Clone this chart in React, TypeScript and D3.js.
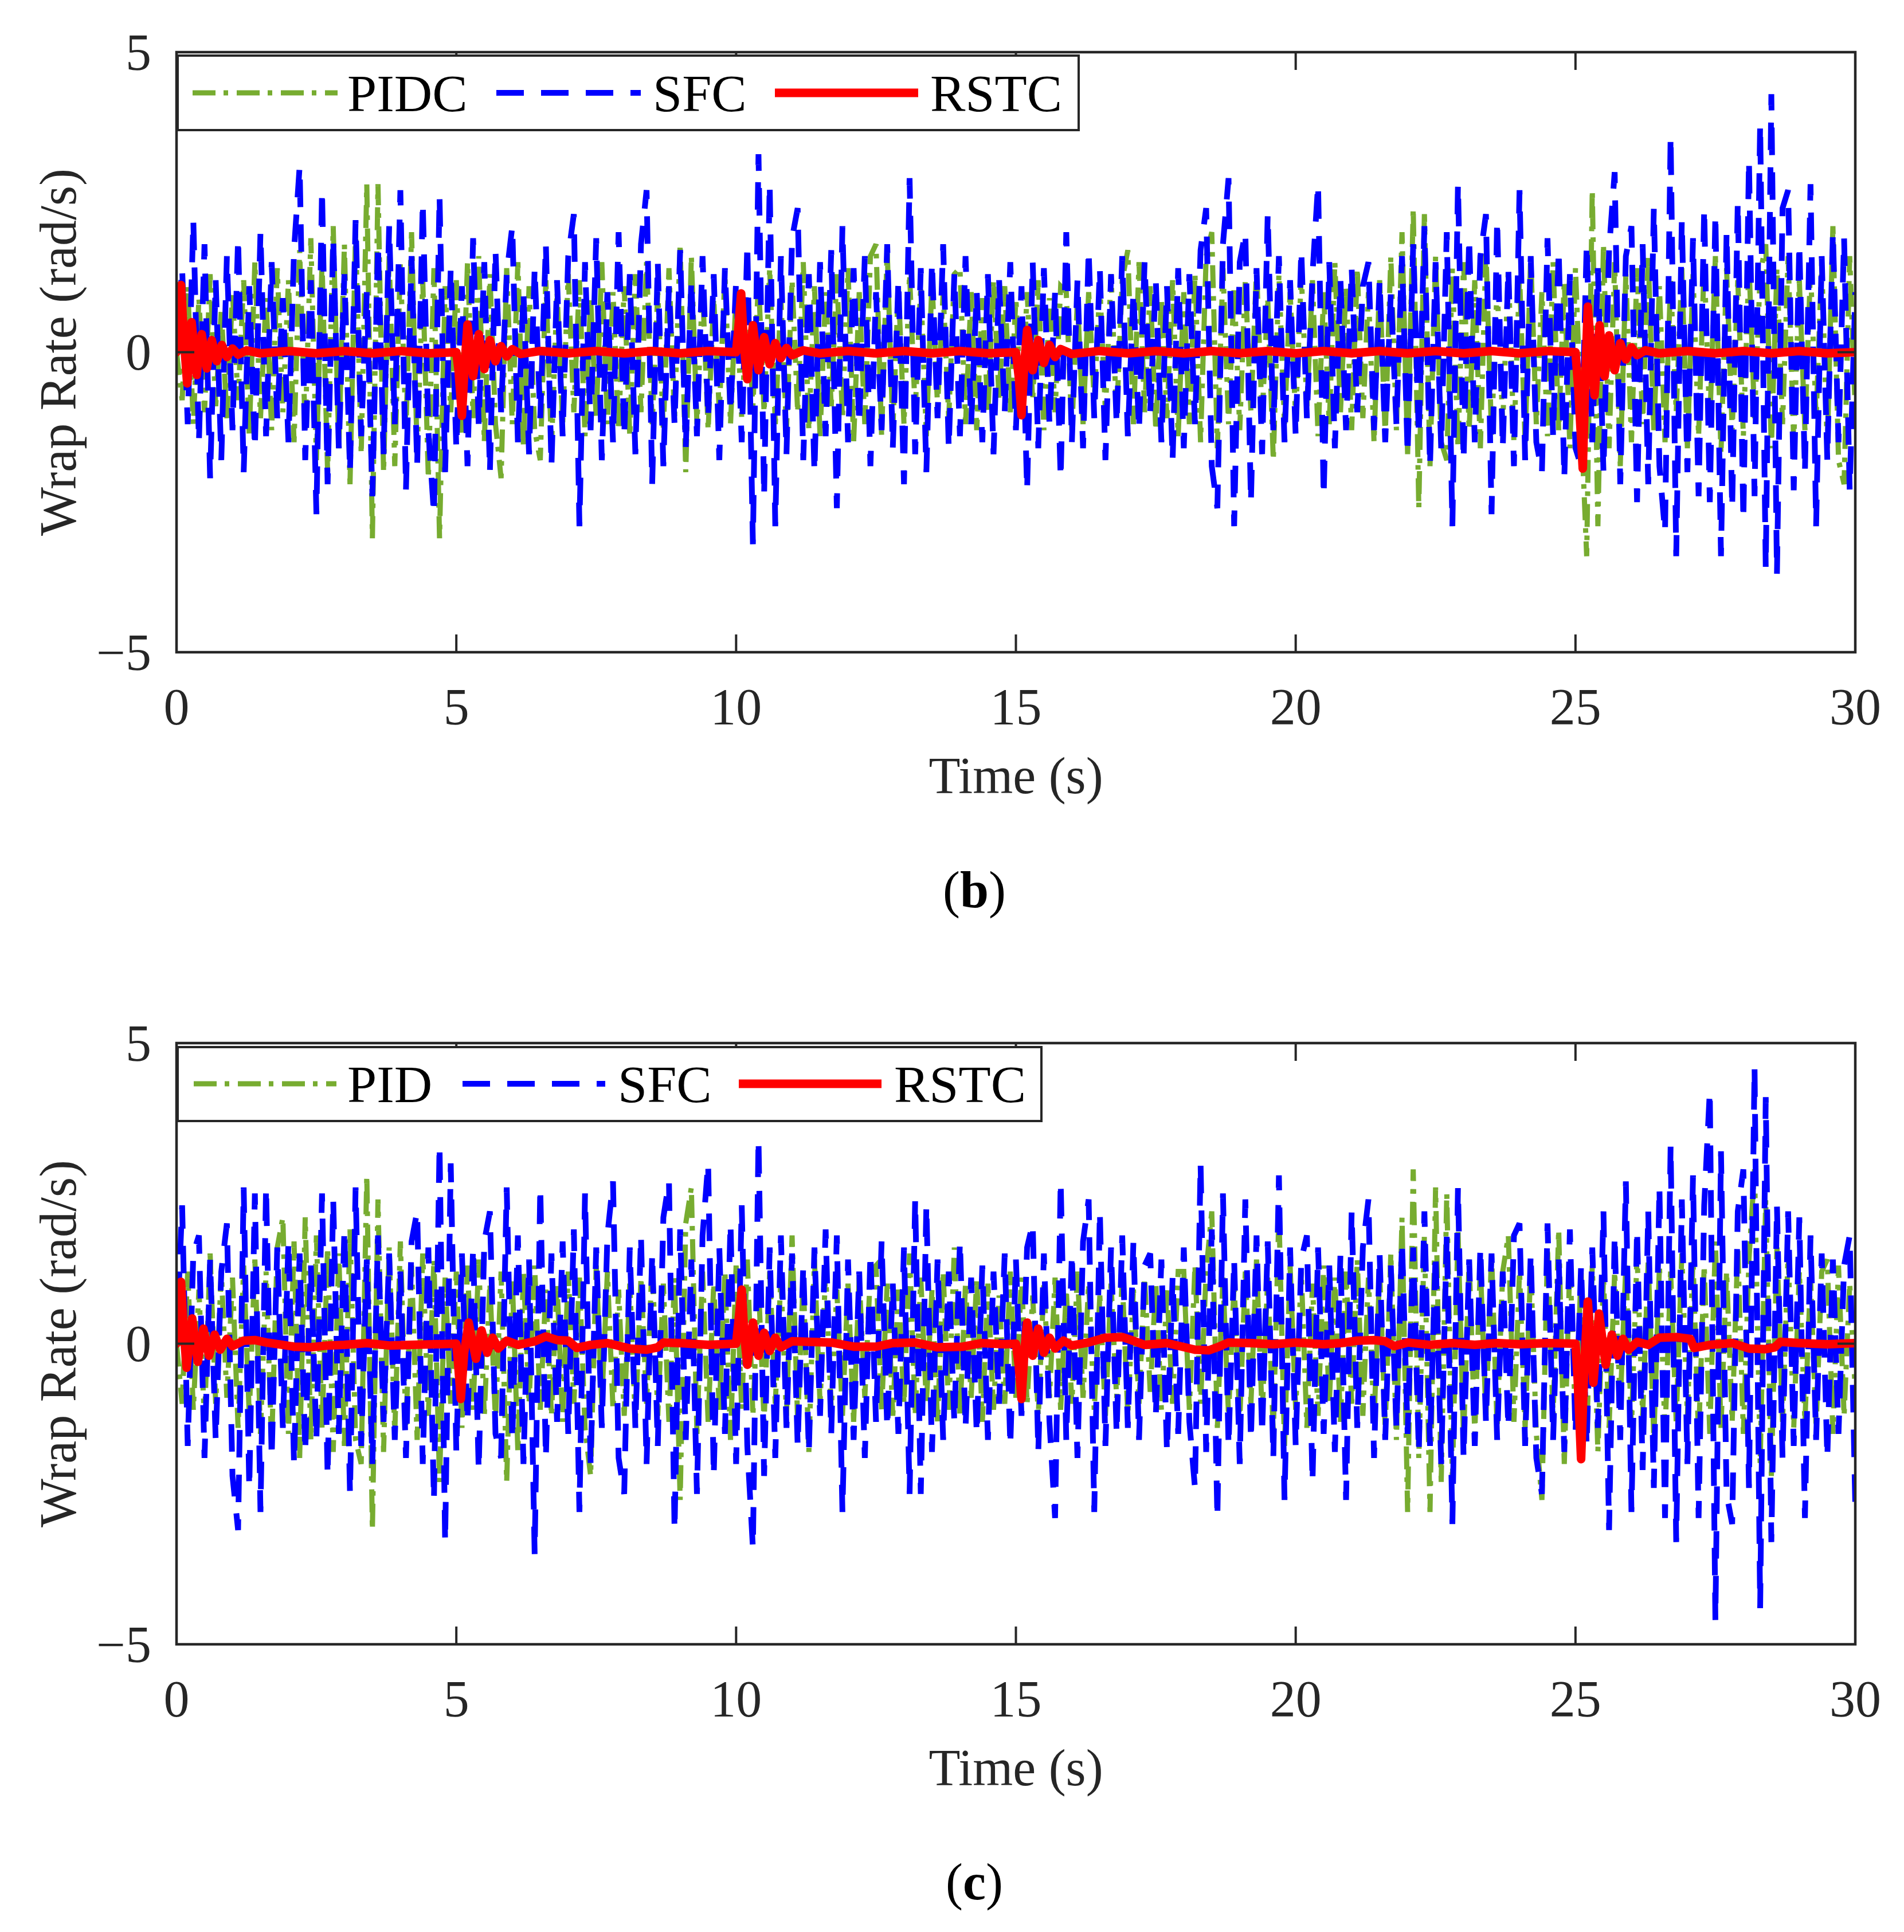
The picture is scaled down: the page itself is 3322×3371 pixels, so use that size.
import React, { useEffect } from 'react';
import * as d3 from 'd3';

// sample step of the noisy controller traces (s)
const DT = 0.1;

// panel (b) — PIDC, one row per second
const pidcB = [
  0, -0.8, 1.1, -1.2, 0.9, -1.0, 1.3, -0.9, 0.7, -1.1,
  1.0, -0.8, 1.2, -1.4, 1.5, -1.1, 0.9, -1.3, 1.4, -1.0,
  1.2, -1.5, 1.7, -1.3, 1.9, -1.8, 1.5, -2.0, 2.1, -1.6,
  1.8, -2.2, 2.0, -1.7, 2.8, -3.1, 2.8, -2.0, 1.6, -1.9,
  1.5, -1.3, 2.0, -1.7, 1.2, -2.1, 1.4, -3.1, 1.1, -1.0,
  1.2, -1.4, 1.5, -1.1, 1.6, -1.5, 1.3, -1.2, -2.1, 1.4,
  -1.2, 1.5, -1.6, 1.1, -1.3, -1.8, 1.2, -1.6, 1.0, -1.2,
  1.3, -1.0, 1.2, -1.4, 0.9, -1.1, 1.5, -1.2, 1.0, -1.3,
  1.1, -1.4, 1.3, -1.0, 1.5, -1.2, 1.0, -1.3, 1.4, -1.1,
  1.8, -2.0, 1.6, -1.2, 1.1, -1.3, 0.9, -1.0, 1.3, -1.2,
  1.0, -1.1, 0.8, -0.9, 1.2, -1.0, 1.4, -1.2, 0.9, -1.3,
  1.2, -1.0, 1.5, -1.3, 1.1, -1.4, 1.0, -0.9, 1.3, -1.1,
  1.4, -1.5, 1.0, -1.2, 1.6, 1.8, -1.4, 1.7, -1.3, 1.1,
  -1.2, 1.3, -1.0, 1.1, -1.4, 1.2, -0.9, 1.0, -1.1, 1.3,
  1.4, -1.2, 1.0, -1.3, 0.9, -1.0, 1.2, -0.8, 1.1, -1.0,
  0.9, -1.1, 1.0, -0.8, 1.2, -1.3, 0.9, -1.0, 1.1, 1.0,
  -1.3, 0.9, -1.2, 1.0, -0.8, 1.1, -1.0, 1.3, -1.1, 1.2,
  1.7, -1.2, 1.5, -1.0, 1.1, -1.3, 0.9, -1.1, 1.2, -1.4,
  1.0, -1.2, 1.3, -1.5, 1.6, 2.0, -1.6, 1.4, -1.2, 1.1,
  -1.3, 1.2, -1.0, 1.4, -1.1, 0.9, -1.8, 1.3, -1.2, 1.0,
  -1.1, 1.3, -0.9, 1.2, -1.4, 1.0, -1.2, 1.5, -1.0, 1.1,
  -1.3, 1.4, -1.1, 1.0, -1.5, 1.2, -1.4, 1.6, -1.3, 2.0,
  -1.7, 2.4, -2.6, 2.3, -1.9, 1.6, -1.5, -1.8, 1.4, -1.6,
  1.5, -1.3, 1.2, -1.6, 1.7, -1.4, 1.1, -1.2, 1.4, -1.5,
  1.3, -1.5, 1.6, -1.2, 1.0, -1.4, 1.5, -1.3, 1.2, -1.6,
  1.4, -1.1, -3.4, 2.7, -2.9, 1.8, -1.6, 1.5, -1.9, 1.3,
  -1.5, 1.4, -1.2, 1.6, -1.3, 1.1, -1.5, 1.2, -1.0, 1.4,
  -1.6, 1.3, -1.4, 1.5, -1.2, 1.6, -1.7, 1.4, -1.3, 1.2,
  -1.4, 1.5, -1.1, 1.3, 1.8, -1.6, 1.4, -1.2, 1.6, -1.5,
  1.2, -1.3, 1.4, -1.1, 1.5, -1.6, 2.1, -1.8, -2.2, 1.6,
  -1.0,
];

// panel (b) — SFC
const sfcB = [
  0, 1.4, -1.2, 2.2, -1.5, 1.8, -2.1, 1.2, -1.8, 1.6,
  -1.3, 1.9, -2.0, 1.1, -1.6, 2.0, -1.4, 1.5, -1.1, 0.9,
  -1.5, 1.7, 3.1, -1.8, 1.2, -2.7, 2.7, -2.2, 1.9, -1.6,
  1.3, -2.0, 2.2, -1.4, 1.0, -2.4, 1.8, -1.7, 2.1, -1.2,
  2.7, -2.3, 1.6, -1.9, 2.5, -1.3, -2.7, 2.6, -2.0, 1.4,
  -1.6, 1.1, -1.9, 1.9, -1.2, 1.5, -2.0, 1.7, -1.0, 1.3,
  2.1, -1.5, 1.0, -1.7, 1.4, -1.1, 1.8, -1.9, 1.2, -1.4,
  1.6, 2.3, -2.9, 1.5, -1.3, 1.9, -1.8, 1.0, -1.5, 2.0,
  -1.4, 1.3, -1.7, 1.8, 2.7, -2.2, 1.5, -1.9, 1.1, -1.2,
  1.7, -1.6, 1.2, -1.4, 1.6, -1.1, 1.3, -1.8, 1.4, -1.0,
  1.2, -1.5, 1.8, -3.2, 3.3, -2.4, 2.8, -2.9, 1.6, -1.7,
  1.9, 2.4, -1.8, 1.3, -2.0, 1.5, -1.4, 1.7, -2.6, 2.1,
  -1.5, 1.4, -1.2, 1.6, -1.9, 1.0, -1.3, 1.8, -1.6, 1.2,
  -2.2, 2.9, -1.7, 1.4, -2.0, 1.5, -1.1, 1.8, -1.6, 1.3,
  -1.4, 1.6, -1.2, 1.0, -1.5, 1.3, -1.7, 1.2, -1.0, 1.5,
  -1.3, 1.1, -2.3, 1.5, -1.6, 1.4, -1.2, 1.0, -2.1, 2.0,
  -1.5, 1.2, -1.6, 1.7, -1.1, 1.4, -1.8, 1.3, -1.2, 1.6,
  -1.4, 1.0, -1.3, 1.5, -1.0, 1.2, -1.5, 1.1, -1.8, 1.4,
  -1.6, 1.3, -1.2, 1.7, 2.4, -1.9, -2.6, 1.8, 2.9, -2.9,
  1.5, 2.0, -2.5, 1.4, -1.7, 2.3, -1.3, 1.6, -1.5, 1.2,
  -1.4, 1.7, -1.1, 1.3, 2.8, -2.4, 1.5, -1.6, 1.2, -1.3,
  1.4, -1.0, 1.1, 1.5, -1.3, 1.2, -1.5, 1.0, -1.2, 1.6,
  -1.7, 1.8, -1.4, 2.1, -1.9, 1.5, -1.6, 2.0, -2.9, 2.8,
  -1.8, 1.9, -1.5, 1.6, 2.3, -2.7, 2.2, -1.6, 1.4, -1.9,
  2.7, -1.8, 1.6, -1.5, -2.0, 1.9, -1.4, 1.7, -2.1, 1.3,
  -1.6, -1.9, 1.8, -1.5, 1.4, -2.0, 1.7, 3.0, -2.2, 1.6,
  2.1, -2.5, 1.8, -2.2, 2.4, -1.9, -3.0, 3.6, -3.4, 2.2,
  -2.0, 1.9, -2.4, 2.4, -2.5, 2.3, -3.4, 2.0, -2.6, 2.5,
  -2.8, 3.2, -2.4, 3.8, -3.6, 4.3, -3.7, 2.4, 2.7, -2.3,
  1.8, -2.0, 2.8, -2.9, 1.6, -1.8, 2.0, -1.5, 1.9, -2.3,
  1.0,
];

// panel (b) — RSTC as [time, value]
const rstcB: [number, number][] = [
  [0, 0], [0.03, 0.35], [0.08, 1.12], [0.13, 0.25], [0.19, -0.52], [0.27, 0.5], [0.36, -0.38],
  [0.45, 0.3], [0.54, -0.27], [0.63, 0.2], [0.72, -0.15], [0.81, 0.12], [0.9, -0.08], [1.0, 0.06],
  [1.1, -0.04], [1.25, 0.03], [1.5, -0.02], [2, 0.02], [2.5, -0.02], [3, 0.02], [3.5, -0.02],
  [4, 0.02], [4.5, -0.02], [5.0, 0], [5.04, -0.3], [5.1, -1.06], [5.15, -0.2], [5.2, 0.46],
  [5.3, -0.4], [5.4, 0.3], [5.5, -0.28], [5.6, 0.2], [5.7, -0.15], [5.8, 0.1], [5.9, -0.07],
  [6.0, 0.05], [6.15, -0.03], [6.5, 0.02], [7, -0.02], [7.5, 0.02], [8, -0.02], [8.5, 0.02],
  [9, -0.02], [9.5, 0.02], [10.0, 0], [10.04, 0.4], [10.09, 0.98], [10.14, 0.1], [10.2, -0.45],
  [10.3, 0.45], [10.4, -0.3], [10.5, 0.25], [10.6, -0.2], [10.7, 0.15], [10.8, -0.1], [10.9, 0.07],
  [11.0, -0.05], [11.2, 0.03], [11.5, -0.02], [12, 0.02], [12.5, -0.02], [13, 0.02], [13.5, -0.02],
  [14, 0.02], [14.5, -0.02], [15.0, 0], [15.05, -0.4], [15.1, -1.05], [15.15, -0.2], [15.2, 0.37],
  [15.3, -0.3], [15.4, 0.2], [15.5, -0.18], [15.6, 0.12], [15.7, -0.08], [15.8, 0.05], [16.0, -0.03],
  [16.5, 0.02], [17, -0.02], [17.5, 0.02], [18, -0.02], [18.5, 0.02], [19, -0.02], [19.5, 0.02],
  [20, -0.02], [20.5, 0.02], [21, -0.02], [21.5, 0.02], [22, -0.02], [22.5, 0.02], [23, -0.02],
  [23.5, 0.02], [24, -0.02], [24.5, 0.02], [25.0, 0], [25.05, -0.6], [25.13, -1.94], [25.18, -0.3],
  [25.22, 0.76], [25.34, -0.72], [25.43, 0.45], [25.52, -0.4], [25.6, 0.28], [25.7, -0.3],
  [25.8, 0.15], [25.9, -0.12], [26.0, 0.08], [26.1, -0.05], [26.25, 0.03], [26.5, -0.02],
  [27, 0.02], [27.5, -0.02], [28, 0.02], [28.5, -0.02], [29, 0.02], [29.5, -0.02], [30, 0],
];

// panel (c) — PID
const pidC = [
  0, -1.0, 1.2, -1.1, 0.9, -1.3, 1.5, -1.0, 1.2, -0.9,
  1.1, -1.4, 1.3, -1.2, 1.4, -1.5, 1.2, -1.7, 1.6, 2.1,
  -1.5, 1.7, -1.9, 2.1, -1.6, 1.8, -1.4, 1.6, -1.8, 1.5,
  -1.7, 1.9, -1.6, -2.0, 2.8, -3.1, 2.4, -1.8, 1.6, -1.5,
  1.7, -1.4, 1.3, -1.6, 1.5, -1.2, 1.4, -2.3, 1.1, -1.0,
  1.2, -1.4, 1.3, -1.1, 1.4, -1.2, 1.0, -1.3, 1.2, -2.3,
  1.1, -1.8, 1.2, -1.0, 1.3, -1.1, 0.9, -1.2, 1.0, -1.3,
  1.2, -1.0, 1.1, -1.4, -2.2, 1.3, -1.0, 1.2, -1.1, 0.9,
  -1.2, 1.0, -1.3, 1.1, -1.0, 1.4, -1.2, 1.0, -1.3, 1.1,
  -2.6, 2.0, 2.6, -1.5, 1.2, -1.3, 1.0, -1.1, 1.2, -1.6,
  1.3, -1.1, 1.4, -1.2, 1.0, -1.3, 1.2, -1.0, 1.1, -1.2,
  1.8, -1.3, 1.1, -1.8, 1.4, -1.0, 1.2, -1.1, 0.9, -1.2,
  1.0, -1.3, 1.1, -0.9, 1.2, 1.3, -1.1, 1.0, -1.2, 0.9,
  -1.0, 1.5, -1.2, 1.1, -1.0, 0.9, -1.3, 1.2, -1.1, 1.6,
  -1.2, 1.0, -0.9, 1.1, -1.3, 1.0, -1.1, 0.8, -1.0, 1.2,
  -0.9, 1.1, -1.0, 0.8, -1.2, 1.0, -0.9, 1.1, -1.1, 0.9,
  -1.0, 1.2, -0.9, 1.0, -1.1, 0.8, -1.2, 1.0, -0.9, 1.1,
  -1.2, 0.9, -1.0, 1.1, -0.8, 1.0, -1.1, 0.9, -1.0, 1.2,
  1.2, -1.1, 1.3, -1.0, 1.2, 2.2, -1.4, 1.1, -1.2, 1.0,
  -1.3, 1.2, -1.0, 1.4, -1.2, 1.1, -1.5, 2.2, -1.7, 1.3,
  -1.1, 1.2, -1.4, 1.0, -1.2, 1.3, -1.0, 1.1, -1.3, 1.2,
  -1.0, 1.4, -1.2, 1.1, -1.3, 1.2, -1.4, 1.5, -1.6, 2.1,
  -2.8, 2.9, -1.9, 1.8, -2.8, 2.6, -2.3, 2.5, -2.3, 1.9,
  -1.6, 1.4, -1.5, 1.3, -1.2, 1.5, -1.4, 1.2, 1.8, -1.3,
  1.2, -1.4, 1.3, -1.5, -2.6, 1.6, -1.2, 1.9, -2.0, 1.4,
  -1.3, 1.2, -1.5, 1.3, -1.8, 1.1, -1.4, 1.2, -1.0, 1.3,
  -1.4, 1.5, -1.2, 1.4, -1.6, 1.3, -1.5, 1.2, -1.3, 1.5,
  -1.2, 1.4, -1.6, 1.3, -1.5, 1.7, -1.4, 1.2, -1.3, 1.6,
  -1.5, 1.4, 2.9, -2.0, 2.4, -2.2, 1.6, -1.3, 1.5, -1.4,
  1.2, -1.3, 1.1, -1.4, 1.2, 1.4, -1.5, 1.3, -1.2, 1.0,
  -0.8,
];

// panel (c) — SFC
const sfcC = [
  0, 2.3, -1.7, 1.5, 1.8, -1.9, 1.4, -1.6, 1.2, 2.0,
  -2.2, -3.1, 2.6, -2.4, 2.5, -2.8, 2.6, -1.9, 1.6, -1.4,
  1.7, -2.0, 1.5, -1.8, 1.3, -1.6, 2.5, -2.2, 2.4, -1.5,
  1.9, -2.5, 2.6, -1.7, 1.4, -2.0, 1.8, -1.3, 1.5, -1.6,
  1.2, -1.9, 1.7, 2.2, -2.0, 1.6, -2.6, 3.3, -3.3, 3.0,
  -1.8, 1.5, -1.3, 1.6, -2.1, 1.7, 2.2, -1.5, -1.9, 2.6,
  -1.6, 1.8, -2.0, 1.4, -3.5, 2.6, -1.9, 1.5, -1.3, 1.7,
  -1.5, 1.9, -2.8, 2.5, -2.0, 1.6, -1.4, 1.8, 2.7, -1.9,
  -2.5, 1.6, -1.4, 1.8, -2.0, 1.5, -1.7, 2.1, 2.7, -3.1,
  1.9, -1.6, 1.4, -2.5, 1.8, 3.0, -2.2, 1.6, -1.5, 2.0,
  -2.0, 2.3, -1.7, -3.4, 3.4, -2.2, 1.6, -1.9, 1.8, -1.4,
  1.5, -1.7, 1.3, -1.8, 1.6, -1.2, 1.9, -1.5, 1.8, -2.8,
  1.4, -1.6, 1.2, -1.9, 1.5, -1.3, 1.7, -1.4, 1.0, -1.5,
  1.6, -2.5, 2.4, -2.5, 2.3, -1.8, 1.4, -1.6, 1.2, -1.3,
  1.7, -1.4, 1.1, -1.5, 1.3, -1.6, 1.2, -1.0, 1.5, -1.7,
  1.4, -1.2, 1.6, 2.0, -1.8, 1.5, -1.3, -2.9, 2.7, -1.6,
  1.5, -1.9, 1.7, 2.4, -2.8, 2.2, -1.7, 1.6, -1.5, 1.8,
  -1.4, 1.7, -1.6, 1.3, 1.5, -1.2, 1.4, -1.8, 1.1, -1.5,
  1.6, -1.3, -2.4, 3.0, -1.8, 1.9, -2.9, 2.5, -1.7, 1.4,
  -2.0, 2.4, -1.6, 1.8, -1.5, 1.7, -1.9, 2.8, -2.6, 1.6,
  -1.7, 1.4, 1.8, -2.3, 1.6, -1.5, 1.3, -1.8, 1.5, -2.6,
  2.2, -1.4, 1.6, 2.4, -1.9, 1.5, -1.6, 1.3, -1.4, 1.7,
  -1.5, 1.6, -1.8, 2.2, -1.7, 1.5, -2.0, 1.8, -3.0, 2.6,
  -1.9, 1.4, -1.7, 1.6, -1.3, 1.5, -1.6, 1.2, -1.4, 1.8,
  2.0, -1.7, 1.5, -1.9, -2.5, 2.0, -1.6, 1.4, -1.8, 1.9,
  -1.5, 1.3, -1.7, 1.6, -1.4, 2.2, -3.1, 1.8, -1.6, 2.7,
  -2.8, 1.9, -2.1, 2.2, -2.4, 2.6, -2.9, 3.3, -3.3, 2.4,
  -2.0, 2.8, -2.9, 2.3, 4.2, -4.6, 3.2, -2.5, -3.0, 2.2,
  2.9, -2.4, 4.6, -4.4, 4.1, -3.3, 2.3, -1.9, 2.2, -1.7,
  2.1, -2.9, 1.8, -1.6, 1.5, -1.9, 1.4, -1.5, 1.3, 1.8,
  -2.7,
];

// panel (c) — RSTC as [time, value]
const rstcC: [number, number][] = [
  [0, 0], [0.03, 0.3], [0.08, 1.03], [0.13, 0.2], [0.18, -0.4], [0.28, 0.42], [0.38, -0.3],
  [0.48, 0.25], [0.58, -0.2], [0.68, 0.15], [0.78, -0.1], [0.9, 0.08], [1.0, -0.04], [1.2, 0.05],
  [1.4, 0.06], [1.6, 0.02], [1.9, -0.02], [2.1, -0.05], [2.4, -0.06], [2.7, -0.03], [3.0, -0.02],
  [3.4, 0.01], [3.8, -0.03], [4.2, -0.02], [4.6, -0.01], [5.0, 0], [5.03, -0.3], [5.08, -0.92],
  [5.14, -0.15], [5.22, 0.35], [5.35, -0.25], [5.45, 0.22], [5.55, -0.15], [5.65, 0.1],
  [5.75, -0.08], [5.9, 0.05], [6.1, -0.02], [6.4, 0.04], [6.6, 0.12], [6.8, 0.06], [7.0, 0.05],
  [7.15, -0.07], [7.4, -0.02], [7.7, 0.01], [8.1, -0.08], [8.4, -0.1], [8.6, -0.06], [8.7, 0.02],
  [9.0, 0.01], [9.5, -0.02], [10.0, 0], [10.04, 0.35], [10.1, 0.9], [10.15, 0.1], [10.2, -0.35],
  [10.3, 0.35], [10.4, -0.2], [10.5, 0.18], [10.6, -0.12], [10.7, 0.1], [10.8, -0.06],
  [11.0, 0.04], [11.3, 0.03], [11.7, 0.02], [12.1, -0.05], [12.5, -0.05], [12.8, 0.01],
  [13.2, 0.02], [13.6, -0.06], [14.05, -0.05], [14.4, 0.01], [14.8, -0.01], [15.0, 0],
  [15.05, -0.35], [15.1, -0.92], [15.15, -0.15], [15.2, 0.35], [15.3, -0.2], [15.4, 0.25],
  [15.5, -0.15], [15.6, 0.1], [15.7, -0.08], [15.85, 0.05], [16.0, -0.03], [16.3, 0.02],
  [16.6, 0.1], [16.9, 0.11], [17.06, 0.06], [17.3, -0.02], [17.7, 0.01], [18.2, -0.1],
  [18.45, -0.11], [18.6, -0.06], [18.8, 0.02], [19.2, 0.01], [19.6, -0.01], [20.0, 0.02],
  [20.5, -0.01], [20.8, 0.01], [21.1, 0.05], [21.4, 0.06], [21.6, 0.04], [21.76, -0.04],
  [22.0, 0.02], [22.4, -0.02], [22.8, 0.01], [23.2, -0.02], [23.6, 0.01], [24.0, -0.01],
  [24.5, 0.01], [25.0, 0], [25.04, -0.6], [25.1, -1.92], [25.16, -0.3], [25.22, 0.7],
  [25.32, -0.65], [25.42, 0.5], [25.54, -0.35], [25.65, 0.15], [25.75, -0.2], [25.85, 0.08],
  [25.95, -0.1], [26.1, 0.03], [26.3, -0.02], [26.5, 0.1], [26.8, 0.11], [27.05, 0.08],
  [27.12, -0.07], [27.4, -0.02], [27.8, 0.01], [28.1, -0.08], [28.4, -0.09], [28.56, -0.06],
  [28.66, 0.03], [29.0, 0.01], [29.5, -0.01], [30, 0.01],
];

const xTicks = [0, 5, 10, 15, 20, 25, 30];
const yTicks = [-5, 0, 5];
const legendB = ['PIDC', 'SFC', 'RSTC'];
const legendC = ['PID', 'SFC', 'RSTC'];

const GREEN = '#77AC30';
const BLUE = '#0000FF';
const RED = '#FF0000';
const AXIS = '#262626';
const FONT = '"Liberation Serif", "Times New Roman", serif';

const STYLES = [
  { color: GREEN, width: 9, dash: '40 14 8 15' },
  { color: BLUE, width: 10, dash: '48 30' },
  { color: RED, width: 15, dash: undefined },
];

type LegendLayout = {
  box: [number, number, number, number];
  lineY: number;
  entries: { x0: number; x1: number; tx: number }[];
};

function Panel({
  id, top, bottom, pid, sfc, rstc, labels, legend, caption,
}: {
  id: string; top: number; bottom: number; pid: number[]; sfc: number[];
  rstc: [number, number][]; labels: string[]; legend: LegendLayout; caption: string;
}) {
  const x = d3.scaleLinear().domain([0, 30]).range([308, 3237]);
  const y = d3.scaleLinear().domain([-5, 5]).range([bottom, top]);
  const [x0, x1] = x.range();

  const sampled = d3.line<number>().x((_, i) => x(i * DT)).y((d) => y(d));
  const pairs = d3.line<[number, number]>().x((d) => x(d[0])).y((d) => y(d[1]));
  const tick = 31;

  return (
    <g>
      <defs>
        <clipPath id={`clip-${id}`}>
          <rect x={x0} y={top} width={x1 - x0} height={bottom - top} />
        </clipPath>
      </defs>
      <g clipPath={`url(#clip-${id})`}>
        <path d={sampled(pid) ?? ''} fill="none" stroke={STYLES[0].color}
          strokeWidth={STYLES[0].width} strokeDasharray={STYLES[0].dash} />
        <path d={sampled(sfc) ?? ''} fill="none" stroke={STYLES[1].color}
          strokeWidth={STYLES[1].width} strokeDasharray={STYLES[1].dash} />
        <path d={pairs(rstc) ?? ''} fill="none" stroke={STYLES[2].color}
          strokeWidth={STYLES[2].width} strokeLinejoin="round" strokeLinecap="round" />
      </g>

      {/* box + ticks */}
      <rect x={x0} y={top} width={x1 - x0} height={bottom - top} fill="none"
        stroke={AXIS} strokeWidth={4.5} />
      {xTicks.map((t) => (
        <g key={`x${t}`}>
          <line x1={x(t)} x2={x(t)} y1={bottom} y2={bottom - tick} stroke={AXIS} strokeWidth={4} />
          <line x1={x(t)} x2={x(t)} y1={top} y2={top + tick} stroke={AXIS} strokeWidth={4} />
          <text x={x(t)} y={bottom + 126} textAnchor="middle" fontSize={90}
            fontFamily={FONT} fill={AXIS}>{t}</text>
        </g>
      ))}
      {yTicks.map((t) => (
        <g key={`y${t}`}>
          <line x1={x0} x2={x0 + tick} y1={y(t)} y2={y(t)} stroke={AXIS} strokeWidth={4} />
          <line x1={x1} x2={x1 - tick} y1={y(t)} y2={y(t)} stroke={AXIS} strokeWidth={4} />
          <text x={264} y={y(t)} dy="0.34em" textAnchor="end" fontSize={90}
            fontFamily={FONT} fill={AXIS}>{t < 0 ? `\u2212${-t}` : t}</text>
        </g>
      ))}

      <text x={(x0 + x1) / 2} y={bottom + 246} textAnchor="middle" fontSize={90}
        fontFamily={FONT} fill={AXIS}>Time (s)</text>
      <text transform={`translate(132,${(top + bottom) / 2}) rotate(-90)`} textAnchor="middle"
        fontSize={90} fontFamily={FONT} fill={AXIS}>Wrap Rate (rad/s)</text>

      {/* legend */}
      <rect x={legend.box[0]} y={legend.box[1]} width={legend.box[2] - legend.box[0]}
        height={legend.box[3] - legend.box[1]} fill="#fff" stroke={AXIS} strokeWidth={4} />
      {legend.entries.map((e, i) => (
        <g key={labels[i]}>
          <line x1={e.x0} x2={e.x1} y1={legend.lineY} y2={legend.lineY}
            stroke={STYLES[i].color} strokeWidth={STYLES[i].width}
            strokeDasharray={STYLES[i].dash} />
          <text x={e.tx} y={legend.lineY + 32} fontSize={92} fontFamily={FONT}
            fill="#000">{labels[i]}</text>
        </g>
      ))}

      <text x={1700} y={bottom + 445} textAnchor="middle" fontSize={90} fontFamily={FONT}
        fill="#000">(<tspan fontWeight="bold">{caption}</tspan>)</text>
    </g>
  );
}

export default function App() {
  useEffect(() => {
    document.body.style.margin = '0';
  }, []);

  const legB: LegendLayout = {
    box: [310, 97, 1882, 227],
    lineY: 162,
    entries: [
      { x0: 336, x1: 589, tx: 606 },
      { x0: 866, x1: 1118, tx: 1139 },
      { x0: 1352, x1: 1602, tx: 1623 },
    ],
  };
  const legC: LegendLayout = {
    box: [310, 1827, 1817, 1956],
    lineY: 1891,
    entries: [
      { x0: 338, x1: 587, tx: 606 },
      { x0: 807, x1: 1056, tx: 1078 },
      { x0: 1289, x1: 1538, tx: 1560 },
    ],
  };

  return (
    <svg width={3322} height={3371} style={{ display: 'block', background: '#fff' }}>
      <rect width={3322} height={3371} fill="#fff" />
      <Panel id="b" top={91} bottom={1138} pid={pidcB} sfc={sfcB} rstc={rstcB}
        labels={legendB} legend={legB} caption="b" />
      <Panel id="c" top={1820} bottom={2869} pid={pidC} sfc={sfcC} rstc={rstcC}
        labels={legendC} legend={legC} caption="c" />
    </svg>
  );
}
